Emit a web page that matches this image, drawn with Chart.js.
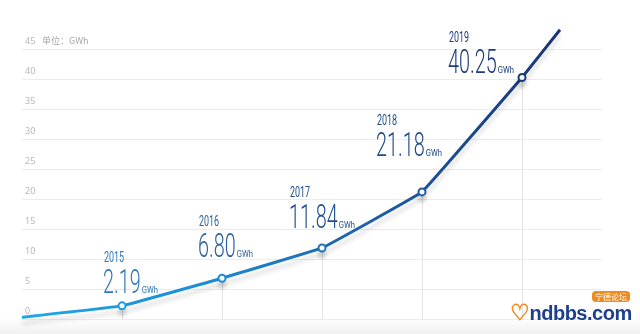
<!DOCTYPE html>
<html>
<head>
<meta charset="utf-8">
<script src="https://cdn.jsdelivr.net/npm/chart.js@4"></script>
<style>
  html, body { margin: 0; padding: 0; background: #fff; overflow: hidden; }
  #wrap { position: relative; width: 640px; height: 334px; overflow: hidden;
    background: linear-gradient(to bottom, #fff 0, #fff 318px, #f1f1f1 334px); }
  canvas { display: block; }
  #logo { position: absolute; left: 510px; top: 300px; font: bold 20px "Liberation Sans", sans-serif; color: #1d3f8c; letter-spacing: -0.5px; }
  #logo span { color: #f08a1c; font-size: 22px; }
  #badge { position: absolute; left: 592px; top: 291px; background: #f08a1c; color: #fff; border-radius: 4px; font: 8px "Noto Sans CJK SC"; padding: 0 3px; line-height: 11px; }
</style>
</head>
<body>
<div id="wrap">
  <canvas id="capacityChart" width="640" height="334"></canvas>
  <div id="logo"><span>♡</span>ndbbs.com</div>
  <div id="badge">宁德论坛</div>
</div>
<script>
// Installed capacity per year (GWh)
const years = [2015, 2016, 2017, 2018, 2019];
const capacity = [2.19, 6.80, 11.84, 21.18, 40.25];
const valueLabels = ["2.19", "6.80", "11.84", "21.18", "40.25"];
// where the curve enters and leaves the plot
const leadIn = { year: 2014, value: 0.3 };
const leadOut = { year: 2019.38, value: 48.2 };
const unitText = "单位：GWh";

// text placement relative to each point: [dx, dy] for the value baseline
const labelOffsets = [[-19, -13], [-24, -21], [-33, -20], [-46, -36], [-74, -5]];
const pointColors = ["#1ea0df", "#1b8dd5", "#1f72b8", "#1f5a9f", "#1a3b80"];
const textColors = ["#2b78bb", "#2b619f", "#214f8c", "#1f4a88", "#1c3c7a"];

const points = [{ x: leadIn.year, y: leadIn.value }]
  .concat(years.map((y, i) => ({ x: y, y: capacity[i] })))
  .concat([{ x: leadOut.year, y: leadOut.value }]);
const radii = points.map((p, i) => (i === 0 || i === points.length - 1 ? 0 : 3.5));
const borderCols = ["#1ea0df"].concat(pointColors).concat(["#1a3578"]);

const condensedFont = '"Roboto", "Liberation Sans", sans-serif';

function lineGradient(ctx) {
  const chart = ctx.chart;
  const x = chart.scales.x;
  if (!x || !chart.chartArea) return "#1b7cc4";
  const x0 = x.getPixelForValue(leadIn.year);
  const x1 = x.getPixelForValue(leadOut.year);
  if (!Number.isFinite(x0) || !Number.isFinite(x1)) return "#1b7cc4";
  const g = chart.ctx.createLinearGradient(x0, 0, x1, 0);
  g.addColorStop(0, "#1ea8e6");
  g.addColorStop(0.35, "#1b8bd2");
  g.addColorStop(0.6, "#1f65ad");
  g.addColorStop(1, "#1a3374");
  return g;
}

// drop lines under each point
const dropLines = {
  id: "dropLines",
  beforeDatasetsDraw(chart) {
    const { ctx, scales } = chart;
    ctx.save();
    ctx.strokeStyle = "#e3e3e3";
    ctx.lineWidth = 1;
    years.forEach((yr, i) => {
      const px = Math.round(scales.x.getPixelForValue(yr)) + 0.5;
      ctx.beginPath();
      ctx.moveTo(px, scales.y.getPixelForValue(capacity[i]));
      ctx.lineTo(px, scales.y.getPixelForValue(0));
      ctx.stroke();
    });
    ctx.restore();
  }
};

// soft shadow under the curve
const lineShadow = {
  id: "lineShadow",
  beforeDatasetDraw(chart) {
    const ctx = chart.ctx;
    ctx.save();
    ctx.shadowColor = "rgba(0,0,0,0.13)";
    ctx.shadowBlur = 4;
    ctx.shadowOffsetY = 6;
  },
  afterDatasetDraw(chart) {
    chart.ctx.restore();
  }
};

// draws text squeezed horizontally, returns drawn width
function narrowText(ctx, text, x, y, font, squeeze) {
  ctx.save();
  ctx.translate(x, y);
  ctx.scale(squeeze, 1);
  ctx.font = font;
  ctx.fillText(text, 0, 0);
  const w = ctx.measureText(text).width * squeeze;
  ctx.restore();
  return w;
}

// year / value / unit annotations and the unit caption
const annotations = {
  id: "annotations",
  afterDatasetsDraw(chart) {
    const { ctx, scales } = chart;
    ctx.save();
    ctx.textBaseline = "alphabetic";
    ctx.textAlign = "left";
    years.forEach((yr, i) => {
      const px = scales.x.getPixelForValue(yr) + labelOffsets[i][0];
      const base = scales.y.getPixelForValue(capacity[i]) + labelOffsets[i][1];
      ctx.fillStyle = textColors[i];
      const w = narrowText(ctx, valueLabels[i], px, base, "300 33px " + condensedFont, 0.6);
      narrowText(ctx, String(yr), px + 1, base - 31, "14px " + condensedFont, 0.64);
      narrowText(ctx, "GWh", px + w + 1, base, "9px " + condensedFont, 0.85);
    });
    ctx.fillStyle = "#a8a8a8";
    ctx.font = '9px "Noto Sans CJK SC", sans-serif';
    ctx.textBaseline = "middle";
    ctx.fillText(unitText, 42, scales.y.getPixelForValue(45) - 8);
    ctx.restore();
  }
};

new Chart(document.getElementById("capacityChart"), {
  type: "line",
  data: {
    datasets: [{
      data: points,
      borderColor: lineGradient,
      borderWidth: 3,
      tension: 0.05,
      clip: false,
      pointRadius: radii,
      pointHoverRadius: radii,
      pointBackgroundColor: "#fff",
      pointBorderColor: borderCols,
      pointBorderWidth: 2
    }]
  },
  options: {
    responsive: false,
    animation: false,
    layout: { padding: { left: 22, right: 38, top: 49, bottom: 15 } },
    plugins: { legend: { display: false }, tooltip: { enabled: false } },
    scales: {
      x: { type: "linear", min: 2014, max: 2019.8, display: false },
      y: {
        min: 0,
        max: 45,
        afterFit(scale) { scale.width = 0; },
        border: { display: false },
        grid: { color: "#ececec", drawTicks: false },
        ticks: {
          stepSize: 5,
          mirror: true,
          padding: 3,
          labelOffset: -8,
          color: "#b8b8b8",
          font: { family: "Noto Sans", size: 9 }
        }
      }
    }
  },
  plugins: [dropLines, lineShadow, annotations]
});
</script>
</body>
</html>
